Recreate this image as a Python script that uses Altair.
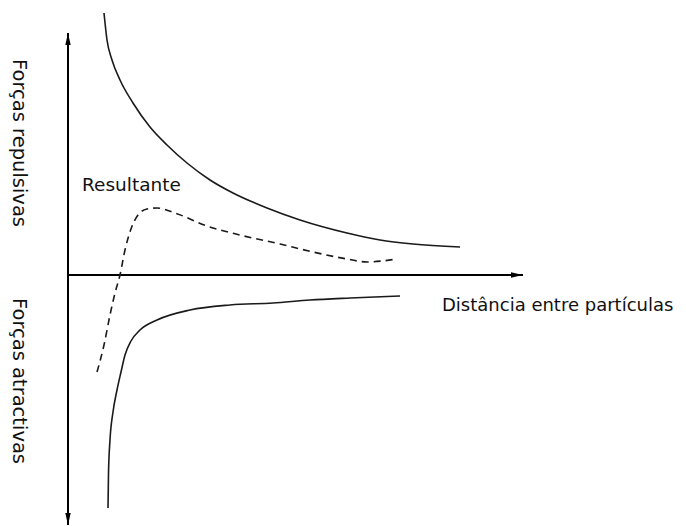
import altair as alt
import pandas as pd

# Curves: distance between particles (x) vs force (y)
rep_x = [36, 39, 44, 52, 65, 82, 99, 119, 142, 165, 199, 232, 279, 312, 345, 392]
rep_y = [262, 235, 215, 195, 172, 148, 130, 112, 95, 82, 67, 55, 42, 35, 31, 28]

res_x = [29, 36, 42, 47, 52, 57, 63, 70, 79, 89, 107, 139, 172, 212, 245, 279, 299, 314, 329]
res_y = [-97, -70, -40, -18, 0, 25, 46, 60, 66, 67, 62, 49, 40, 31, 23, 16, 13, 14, 16]

att_x = [40, 40.5, 42, 45, 49, 53, 57, 63, 72, 89, 122, 162, 205, 242, 282, 332]
att_y = [-233, -198, -165, -137, -115, -97, -80, -66, -55, -45, -35, -30, -28, -25, -23, -21]

# Axis extents of the diagram (data units)
axis_y_top = 242
axis_y_bottom = -250
axis_x_right = 455

label_rep = "Forças repulsivas"
label_att = "Forças atractivas"
label_res = "Resultante"
label_dist = "Distância entre partículas"

xs = alt.Scale(domain=[-60, 610], nice=False, zero=False)
ys = alt.Scale(domain=[-251, 267], nice=False, zero=False)

solid = pd.DataFrame({
    "x": rep_x + att_x,
    "y": rep_y + att_y,
    "s": ["rep"] * len(rep_x) + ["att"] * len(att_x),
    "i": list(range(len(rep_x))) + list(range(len(att_x))),
})
dashed = pd.DataFrame({"x": res_x, "y": res_y, "i": list(range(len(res_x)))})

X = lambda f: alt.X(f, scale=xs, axis=None)
Y = lambda f: alt.Y(f, scale=ys, axis=None)

vrule = alt.Chart(pd.DataFrame({"x": [0], "y": [axis_y_bottom], "y2": [axis_y_top]})).mark_rule(
    color="black", strokeWidth=2).encode(x=X("x:Q"), y=Y("y:Q"), y2="y2:Q")
hrule = alt.Chart(pd.DataFrame({"x": [0], "x2": [axis_x_right], "y": [0]})).mark_rule(
    color="black", strokeWidth=2).encode(x=X("x:Q"), x2="x2:Q", y=Y("y:Q"))

up = alt.Chart(pd.DataFrame({"x": [0], "y": [axis_y_top]})).mark_point(
    shape="M0,-1L0.45,1L-0.45,1Z", filled=True, size=144, color="black", opacity=1, yOffset=6
).encode(x=X("x:Q"), y=Y("y:Q"))
down = alt.Chart(pd.DataFrame({"x": [0], "y": [axis_y_bottom]})).mark_point(
    shape="M0,1L0.45,-1L-0.45,-1Z", filled=True, size=144, color="black", opacity=1, yOffset=-6
).encode(x=X("x:Q"), y=Y("y:Q"))
right = alt.Chart(pd.DataFrame({"x": [axis_x_right], "y": [0]})).mark_point(
    shape="M1,0L-1,0.45L-1,-0.45Z", filled=True, size=144, color="black", opacity=1, xOffset=-6
).encode(x=X("x:Q"), y=Y("y:Q"))

solid_lines = alt.Chart(solid).mark_line(
    color="#1a1a1a", strokeWidth=1.6, interpolate="monotone"
).encode(x=X("x:Q"), y=Y("y:Q"), detail="s:N", order="i:Q")

dashed_line = alt.Chart(dashed).mark_line(
    color="#1a1a1a", strokeWidth=1.6, strokeDash=[7, 5], interpolate="monotone"
).encode(x=X("x:Q"), y=Y("y:Q"), order="i:Q")

font = "DejaVu Sans"
t_res = alt.Chart().mark_text(text=label_res, font=font, fontSize=18.5, align="left",
                              baseline="alphabetic", color="#111").encode(
    x=alt.datum(14, scale=xs), y=alt.datum(84, scale=ys))
t_dist = alt.Chart().mark_text(text=label_dist, font=font, fontSize=18, align="left",
                               baseline="alphabetic", color="#111").encode(
    x=alt.datum(374, scale=xs), y=alt.datum(-36, scale=ys))
t_rep = alt.Chart().mark_text(text=label_rep, font=font, fontSize=19.5, align="center",
                              baseline="alphabetic", angle=90, color="#111").encode(
    x=alt.datum(-55, scale=xs), y=alt.datum(132, scale=ys))
t_att = alt.Chart().mark_text(text=label_att, font=font, fontSize=19.5, align="center",
                              baseline="alphabetic", angle=90, color="#111").encode(
    x=alt.datum(-55, scale=xs), y=alt.datum(-106, scale=ys))

chart = alt.layer(
    vrule, hrule, up, down, right, solid_lines, dashed_line, t_res, t_dist, t_rep, t_att
).properties(
    width=670, height=518, padding=0, autosize="none", background="white"
).configure_view(stroke=None)

chart.save("out.html", embed_options={"renderer": "svg", "actions": False})
